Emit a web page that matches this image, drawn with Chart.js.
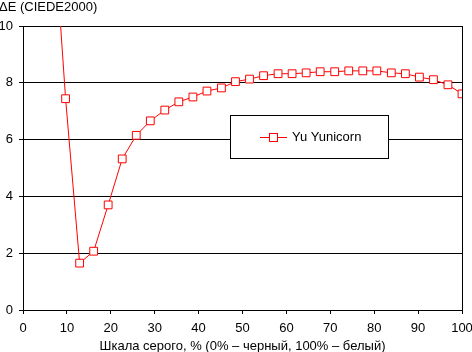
<!DOCTYPE html>
<html>
<head>
<meta charset="utf-8">
<script src="https://cdn.jsdelivr.net/npm/chart.js@4"></script>
<style>
  html, body { margin: 0; padding: 0; background: #fff; }
  #wrap { width: 472px; height: 352px; }
</style>
</head>
<body>
<div id="wrap"><canvas id="grafica" width="472" height="352"></canvas></div>
<script>
// ======================
// DATOS
// ======================
const serieNombre = "Yu Yunicorn";
const nivelesGris = [6.5, 9.7, 12.9, 16.1, 19.4, 22.6, 25.8, 29.0, 32.3, 35.5,
                     38.7, 41.9, 45.2, 48.4, 51.6, 54.8, 58.1, 61.3, 64.5, 67.7,
                     71.0, 74.2, 77.4, 80.6, 83.9, 87.1, 90.3, 93.5, 96.8, 100];
const deltaE = [14.7, 7.44, 1.65, 2.07, 3.70, 5.32, 6.15, 6.66, 7.04, 7.33,
                7.50, 7.71, 7.82, 8.04, 8.13, 8.25, 8.32, 8.32, 8.35, 8.39,
                8.39, 8.42, 8.42, 8.42, 8.35, 8.32, 8.20, 8.11, 7.93, 7.61];
const tituloY = "ΔE (CIEDE2000)";
const tituloX = "Шкала серого, % (0% – черный, 100% – белый)";

const fuente = "'Liberation Sans', Arial, sans-serif";

const puntos = nivelesGris.map((x, i) => ({ x: x, y: deltaE[i] }));

// ======================
// EXTRAS: titulo Y, borde derecho, leyenda
// ======================
const extras = {
    id: "extras",
    afterDraw(chart) {
        const ctx = chart.ctx;
        const a = chart.chartArea;
        ctx.save();
        // borde derecho
        ctx.strokeStyle = "#000";
        ctx.lineWidth = 1;
        ctx.beginPath();
        ctx.moveTo(Math.round(a.right) + 0.5, a.top);
        ctx.lineTo(Math.round(a.right) + 0.5, a.bottom);
        ctx.stroke();

        // titulo eje Y
        ctx.fillStyle = "#000";
        ctx.font = "13px " + fuente;
        ctx.textBaseline = "middle";
        ctx.textAlign = "left";
        ctx.fillText(tituloY, -1, 7);

        // leyenda
        const lx = 230.5, ly = 115.5, lw = 158, lh = 43;
        ctx.fillStyle = "#fff";
        ctx.fillRect(lx, ly, lw, lh);
        ctx.strokeStyle = "#000";
        ctx.strokeRect(lx, ly, lw, lh);
        const cy = 137.5;
        ctx.strokeStyle = "#ff0000";
        ctx.beginPath();
        ctx.moveTo(260, cy);
        ctx.lineTo(287, cy);
        ctx.stroke();
        ctx.fillStyle = "#fff";
        ctx.fillRect(269.5, cy - 4, 8, 8);
        ctx.strokeRect(269.5, cy - 4, 8, 8);
        ctx.fillStyle = "#000";
        ctx.font = "13px " + fuente;
        ctx.fillText(chart.data.datasets[0].label, 292, cy);
        ctx.restore();
    }
};

// ======================
// GRAFICA
// ======================
const ctx = document.getElementById("grafica").getContext("2d");
new Chart(ctx, {
    type: "line",
    data: {
        datasets: [{
            label: serieNombre,
            data: puntos,
            borderColor: "#ff0000",
            borderWidth: 1,
            backgroundColor: "#ffffff",
            pointStyle: "rect",
            pointRadius: 5.5,
            pointBorderWidth: 1,
            pointBorderColor: "#ff0000",
            pointBackgroundColor: "#ffffff",
            tension: 0
        }]
    },
    options: {
        responsive: false,
        animation: false,
        layout: { padding: { top: 26, right: 10, left: 0, bottom: 0 } },
        plugins: {
            legend: { display: false },
            tooltip: { enabled: false }
        },
        scales: {
            x: {
                type: "linear",
                min: 0,
                max: 100,
                afterFit(s) {
                    s.height = 42;
                    s.paddingLeft = 0;
                    s.paddingRight = 0;
                },
                ticks: { stepSize: 10, color: "#000", padding: 7, maxRotation: 0,
                         font: { family: fuente, size: 13 } },
                grid: { drawOnChartArea: false, drawTicks: true, tickLength: 4, color: "#000" },
                border: { display: true, color: "#000" },
                title: { display: true, text: tituloX, color: "#000", padding: { top: 2, bottom: -2 },
                         font: { family: fuente, size: 13 } }
            },
            y: {
                min: 0,
                max: 10,
                afterFit(s) { s.width = 23; },
                ticks: { stepSize: 2, color: "#000", padding: 6,
                         font: { family: fuente, size: 13 } },
                grid: { drawTicks: true, tickLength: 4, color: "#000" },
                border: { display: true, color: "#000" }
            }
        }
    },
    plugins: [extras]
});
</script>
</body>
</html>
